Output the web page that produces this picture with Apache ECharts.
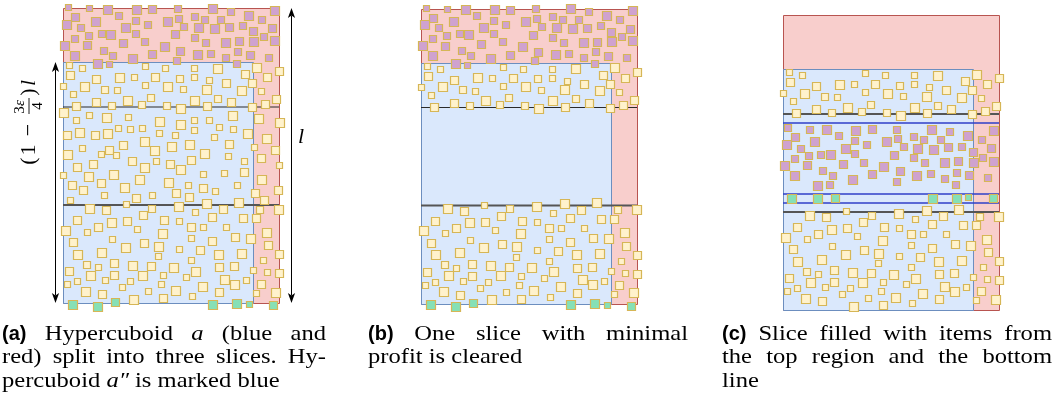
<!DOCTYPE html>
<html><head><meta charset="utf-8">
<script src="https://cdn.jsdelivr.net/npm/echarts@6/dist/echarts.min.js"></script>
<style>html,body{margin:0;padding:0;background:#fff}#c{width:1056px;height:405px}</style>
</head><body><div id="c"></div><script>
// ---------- data (diagram units; x across a panel 0..216, y down 0..295) ----------
const topPurple = [[5,-1,6],[26,0,6],[44,1,9],[73,1,9],[89,1,8],[114,0,7],[149,0,9],[167,3,7],[185,7,9],[211,2,9],
[12,9,8],[32,13,9],[55,7,7],[72,12,7],[104,13,9],[115,10,7],[131,8,7],[141,11,7],[157,11,7],[198,11,7],
[3,16,9],[17,19,7],[62,19,9],[84,16,7],[120,18,7],[135,19,9],[151,20,9],[166,19,8],[179,17,7],[190,23,8],[209,20,8],
[25,27,7],[38,25,7],[47,26,9],[72,25,7],[112,26,8],[131,29,7],[200,28,7],
[11,30,7],[24,37,8],[60,35,8],[81,33,7],[101,38,9],[142,34,7],[162,34,9],[176,33,8],[190,33,9],[211,32,9],
[1,37,9],[40,42,7],[117,43,8],[174,43,7],[11,47,9],[49,47,7],[69,50,9],[89,46,8],[134,46,9],[147,45,7],[162,49,7],[187,47,8],[205,49,7],
[34,55,9],[46,56,6],[113,52,7],[173,55,7]];
const slice1Items = [[6,57,6],[19,60,6],[7,67,8],[33,71,8],[56,69,9],[71,69,6],[82,58,6],[92,69,8],[102,60,6],[116,70,7],[131,60,6],[131,69,6],[146,72,6],[154,60,9],[182,66,8],[193,59,9],[216,63,8],[204,69,8],[189,75,8],[163,75,8],
[0,78,6],[10,86,6],[21,78,9],[41,81,7],[54,82,6],[82,77,6],[104,78,9],[120,81,6],[143,81,9],[198,83,6],[178,82,9],
[33,94,8],[64,92,9],[87,89,7],[78,96,7],[48,97,7],[13,98,8],[103,97,7],[117,100,9],[131,92,9],[144,98,8],[154,90,7],[168,94,8],[189,99,8],[202,96,8],[213,91,8]];
const slice2Items = [[0,104,9],[13,112,6],[26,107,6],[43,109,9],[65,109,6],[96,113,9],[117,116,9],[131,112,6],[146,112,6],[169,107,9],[195,110,9],[216,114,9],
[4,127,8],[16,124,9],[32,127,8],[44,125,9],[55,120,6],[67,121,6],[79,120,6],[96,125,6],[112,127,6],[131,122,6],[156,119,6],[170,121,6],[184,125,9],[203,130,9],
[151,129,6],[81,133,9],[19,140,6],[38,146,6],[46,142,8],[53,147,6],[60,137,8],[91,142,9],[108,138,9],[126,136,9],[141,145,9],[166,136,8],[165,148,6],[191,139,6],[212,142,8],
[4,146,9],[14,159,8],[30,156,8],[69,153,8],[81,159,9],[93,153,6],[107,156,8],[117,161,9],[128,152,8],[181,153,6],[198,150,8],[216,157,6],
[0,167,6],[25,168,9],[50,166,9],[76,171,9],[105,174,9],[140,166,6],[161,165,6],[181,164,8],[198,171,9],
[9,177,8],[20,182,8],[38,175,8],[61,179,9],[41,187,6],[73,190,8],[89,187,6],[113,185,8],[125,177,6],[126,189,8],[140,180,8],[152,183,6],[174,177,6],[192,185,8],[215,182,8],
[7,192,6],[201,192,8]];
const slice3Items = [[26,200,9],[43,202,8],[63,196,6],[88,200,7],[115,198,9],[132,204,6],[143,195,9],[160,201,8],[175,194,9],[196,201,7],[215,201,9],
[14,212,8],[2,222,9],[24,224,6],[35,219,8],[48,214,9],[64,213,8],[80,207,8],[74,221,6],[101,212,8],[116,213,6],[99,225,9],[128,219,8],[140,219,6],[149,209,8],[163,219,6],[180,210,8],[193,210,8],[172,229,8],[187,230,9],[203,224,9],
[10,234,8],[14,246,9],[38,244,9],[49,231,6],[62,239,9],[81,235,8],[95,238,9],[116,241,6],[128,230,6],[137,242,8],[149,233,8],[155,246,9],[178,245,9],[205,237,8],[216,246,8],
[6,263,8],[23,256,7],[35,259,6],[51,255,8],[69,257,9],[88,258,8],[95,248,6],[110,259,9],[128,252,6],[132,263,9],[156,259,8],[171,258,8],[190,262,6],[200,252,6],[204,264,6],[216,265,8],
[4,276,6],[14,273,6],[27,267,9],[42,272,6],[51,267,8],[67,273,6],[79,267,9],[100,267,6],[123,269,6],[161,271,9],[183,272,6],[198,276,8],
[22,283,9],[39,286,8],[59,279,6],[85,283,6],[98,276,6],[112,282,9],[139,278,9],[156,284,8],[171,276,9],[193,285,6],[212,284,9],
[70,291,9],[100,290,8],[129,288,6]];
const bottomGreen = [[9,296,9],[34,298,9],[52,294,8],[149,296,9],[173,295,9],[186,296,6],[210,297,8]];
const cSlicePurple = [[4,112,7],[26,114,7],[43,114,9],[55,120,7],[72,115,9],[89,114,8],[113,114,7],[148,114,9],[166,116,7],[184,120,9],[210,115,9],
[12,122,8],[3,129,9],[17,133,7],[31,126,9],[71,125,7],[83,129,7],[62,133,9],[103,126,9],[114,123,7],[120,131,7],[130,121,7],[140,124,7],[134,133,9],[157,124,7],[150,134,9],[165,132,8],[178,131,7],[198,124,7],[208,133,8],
[11,143,7],[25,140,7],[37,139,7],[47,139,9],[71,138,7],[111,140,8],[130,142,7],[190,137,8],[199,142,7],[1,150,9],[24,150,8],[60,149,8],[80,147,7],[100,151,9],[141,147,7],[161,147,9],[175,146,8],[190,147,9],[210,146,9],
[11,160,9],[39,155,7],[49,160,7],[89,159,8],[117,156,8],[133,160,9],[147,158,7],[161,163,7],[173,157,7],[186,160,8],[204,162,7],
[34,170,9],[46,169,7],[69,164,9],[113,166,7],[172,169,7]];
const cSliceGreen = [[8,183,9],[34,183,9],[52,183,8],[149,183,9],[173,183,9],[185,182,6],[210,183,8]];

// region geometry in diagram units
const panelSize = [216, 295];
const blueRegion = [0, 54, 190, 295];
const sliceLines = [99, 197];
const insertLines = [108, 179, 188];
const lengthArrows = [[-8, 54, 295], [228, 0, 295]];
const labelAnchors = [[-34, 113], [238, 129]];

const captionA = ["**(a)** Hypercuboid *a* (blue and", "red) split into three slices. Hy-", "percuboid *a″* is marked blue"];
const captionB = ["**(b)** One slice with minimal", "profit is cleared"];
const captionC = ["**(c)** Slice filled with items from", "the top region and the bottom", "line"];

// ---------- styles ----------
const ST = {
  pink: {fill: '#f8cecc', stroke: '#b85450', lineWidth: 1},
  blue: {fill: '#dae8fc', stroke: '#6c8ebf', lineWidth: 1},
  yellow: {fill: '#fff2cc', stroke: '#d6b656', lineWidth: 1.2},
  purple: {fill: '#cfa2cf', stroke: '#d6b656', lineWidth: 1.2},
  green: {fill: '#86e0b6', stroke: '#d6b656', lineWidth: 1.2},
  black: {stroke: '#2a2a2a', lineWidth: 1.2},
  gray: {stroke: '#555', lineWidth: 1.8},
  bline: {stroke: '#2f3fc8', lineWidth: 1.4}
};
const SERIF = '"Liberation Serif", "DejaVu Serif", serif';

const panels = [
  {left: 63, top: 8, items: [[topPurple,'purple'],[slice1Items,'yellow'],[slice2Items,'yellow'],[slice3Items,'yellow'],[bottomGreen,'green']],
   lines: [[sliceLines[0],'black'],[sliceLines[1],'gray']], arrows: true},
  {left: 421, top: 8.5, items: [[topPurple,'purple'],[slice1Items,'yellow'],[slice3Items,'yellow'],[bottomGreen,'green']],
   lines: [[sliceLines[0],'black'],[sliceLines[1],'gray']]},
  {left: 783, top: 15, items: [[slice1Items,'yellow'],[cSlicePurple,'purple'],[cSliceGreen,'green'],[slice3Items,'yellow']],
   lines: [[sliceLines[0],'gray'],[sliceLines[1],'gray'],[insertLines[0],'bline'],[insertLines[1],'bline'],[insertLines[2],'bline']]}
];

const grid = [], xAxis = [], yAxis = [], series = [];
panels.forEach((p, i) => {
  grid.push({left: p.left, top: p.top, width: panelSize[0], height: panelSize[1]});
  xAxis.push({type: 'value', gridIndex: i, min: 0, max: panelSize[0], show: false});
  yAxis.push({type: 'value', gridIndex: i, min: 0, max: panelSize[1], inverse: true, show: false});
  const base = {type: 'custom', coordinateSystem: 'cartesian2d', xAxisIndex: i, yAxisIndex: i, silent: true, clip: false};
  const frames = [[0, 0, panelSize[0], panelSize[1]], blueRegion];
  const frameKinds = ['pink', 'blue'];
  series.push(Object.assign({}, base, {data: frames, renderItem: (params, api) => {
    const a = api.coord([api.value(0), api.value(1)]), b = api.coord([api.value(2), api.value(3)]);
    return {type: 'rect', shape: {x: Math.round(a[0]) + 0.5, y: Math.round(a[1]) + 0.5, width: Math.round(b[0] - a[0]), height: Math.round(b[1] - a[1])},
      style: ST[frameKinds[params.dataIndex]]};
  }}));
  const lineData = p.lines.map(l => [0, panelSize[0], l[0]]);
  series.push(Object.assign({}, base, {data: lineData, renderItem: (params, api) => {
    const a = api.coord([api.value(0), api.value(2)]), b = api.coord([api.value(1), api.value(2)]);
    return {type: 'line', shape: {x1: a[0], y1: a[1], x2: b[0], y2: b[1]}, style: ST[p.lines[params.dataIndex][1]]};
  }}));
  p.items.forEach(([arr, kind]) => {
    series.push(Object.assign({}, base, {data: arr, renderItem: (params, api) => {
      const c = api.coord([api.value(0), api.value(1)]);
      const s = api.size([api.value(2), api.value(2)]);
      return {type: 'rect', shape: {x: Math.round(c[0] - s[0] / 2) + 0.5, y: Math.round(c[1] - s[1] / 2) + 0.5, width: Math.round(s[0]), height: Math.round(s[1])},
        style: ST[kind]};
    }}));
  });
  if (p.arrows) {
    series.push(Object.assign({}, base, {data: lengthArrows, renderItem: (params, api) => {
      const t = api.coord([api.value(0), api.value(1)]), b = api.coord([api.value(0), api.value(2)]);
      const x = Math.round(t[0]) + 0.5, L = 10, W = 3.6, N = 7.5;
      return {type: 'group', children: [
        {type: 'line', shape: {x1: x, y1: t[1] + N, x2: x, y2: b[1] - N}, style: {stroke: '#000', lineWidth: 1}},
        {type: 'polygon', shape: {points: [[x, t[1]], [x - W, t[1] + L], [x, t[1] + N], [x + W, t[1] + L]]}, style: {fill: '#000'}},
        {type: 'polygon', shape: {points: [[x, b[1]], [x - W, b[1] - L], [x, b[1] - N], [x + W, b[1] - L]]}, style: {fill: '#000'}}
      ]};
    }}));
    series.push(Object.assign({}, base, {data: labelAnchors, renderItem: (params, api) => {
      const c = api.coord([api.value(0), api.value(1)]);
      const T = (text, x, y, size, italic) => ({type: 'text', x: x, y: y, style: {text: text, font: (italic ? 'italic ' : '') + size + 'px ' + SERIF,
        fill: '#000', align: 'center', verticalAlign: 'middle', textAlign: 'center', textVerticalAlign: 'middle'}});
      if (params.dataIndex === 1) {
        return {type: 'group', x: c[0], y: c[1], children: [T('l', 0, 0, 22, true)]};
      }
      return {type: 'group', x: c[0], y: c[1], rotation: Math.PI / 2, children: [
        T('(', -40, 0, 22), T('1', -29, 0, 22), T('−', -9, 0, 22),
        T('3', 11, -9, 15), T('ε', 18, -9, 15, true),
        {type: 'line', shape: {x1: 7, y1: 0, x2: 23, y2: 0}, style: {stroke: '#000', lineWidth: 0.9}},
        T('4', 15, 9, 15),
        T(')', 29, 0, 22), T('l', 38, 0, 22, true)
      ]};
    }}));
  }
});

// ---------- captions (justified) ----------
const mctx = document.createElement('canvas').getContext('2d');
const CAP = 21, STRETCH = 1.17;
function fontOf(kind) {
  if (kind === 'b') return 'bold ' + (CAP - 1) + 'px "Liberation Sans", "DejaVu Sans", sans-serif';
  if (kind === 'i') return 'italic ' + CAP + 'px ' + SERIF;
  return CAP + 'px ' + SERIF;
}
function tok(w) {
  if (w.startsWith('**')) return {t: w.slice(2, -2), k: 'b'};
  if (w.startsWith('*')) return {t: w.slice(1, -1), k: 'i'};
  return {t: w, k: 'n'};
}
const graphic = [];
function caption(lines, left, right, y0, lh) {
  lines.forEach((line, li) => {
    const toks = line.split(' ').map(tok);
    toks.forEach(t => { mctx.font = fontOf(t.k); t.sx = t.k === 'b' ? 1 : STRETCH; t.w = mctx.measureText(t.t).width * t.sx; });
    mctx.font = fontOf('n');
    const sp = mctx.measureText(' ').width * STRETCH;
    const total = toks.reduce((s, t) => s + t.w, 0);
    const last = li === lines.length - 1;
    const gap = (!last && toks.length > 1) ? (right - left - total) / (toks.length - 1) : sp;
    let x = left;
    toks.forEach(t => {
      graphic.push({type: 'text', x: x, y: y0 + li * lh, scaleX: t.sx, silent: true, style: {text: t.t, font: fontOf(t.k), fill: '#000',
        align: 'left', verticalAlign: 'middle', textAlign: 'left', textVerticalAlign: 'middle'}});
      x += t.w + gap;
    });
  });
}
caption(captionA, 2, 326, 334, 23.5);
caption(captionB, 368, 688, 334, 23.5);
caption(captionC, 722, 1052, 334, 23.5);

const chart = echarts.init(document.getElementById('c'));
chart.setOption({animation: false, backgroundColor: '#fff', grid, xAxis, yAxis, series, graphic});
</script></body></html>
